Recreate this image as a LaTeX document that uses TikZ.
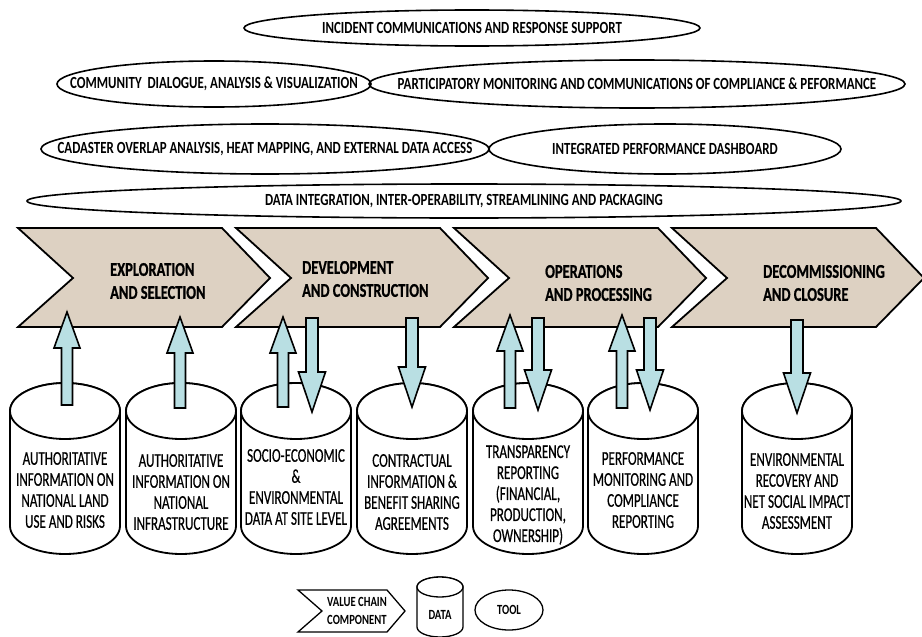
\documentclass[tikz,border=0pt]{standalone}
\usepackage{fontspec}
\newfontfamily\toolfont{Carlito}[FakeStretch=0.76]
\newfontfamily\stagefont{Carlito}[FakeStretch=0.74, FakeBold=0.8]
\newfontfamily\datafont{Carlito}[FakeStretch=0.67, FakeBold=0.5]
\usetikzlibrary{shapes.geometric}

\definecolor{stagefill}{RGB}{221,209,194}
\definecolor{flowfill}{RGB}{185,223,227}

% block arrows: x, tip y, foot y
\newcommand{\blockup}[3]{%
  \draw[flow] (#1-5.5,#3) -- (#1-5.5,#2+36) -- (#1-13,#2+36) -- (#1,#2)
    -- (#1+13,#2+36) -- (#1+5.5,#2+36) -- (#1+5.5,#3) -- cycle;}
% x, shaft top y, tip y
\newcommand{\blockdown}[3]{%
  \draw[flow] (#1-6,#2) -- (#1-6,#3-40) -- (#1-13.5,#3-40) -- (#1,#3)
    -- (#1+13.5,#3-40) -- (#1+6,#3-40) -- (#1+6,#2) -- cycle;}
% value chain chevron from its left x
\newcommand{\stagechevron}[1]{%
  \draw[stage] (#1,228) -- ++(204,0) -- ++(48,50) -- ++(-48,49) -- ++(-204,0) -- ++(55,-49) -- cycle;}
% data store from its centre x
\newcommand{\datacyl}[1]{%
  \draw[store] (#1-55,411) -- (#1-55,526) arc[start angle=180, end angle=0, x radius=55, y radius=28]
    -- (#1+55,411) arc[start angle=0, end angle=-180, x radius=55, y radius=28] -- cycle;
  \draw[store] (#1,411) ellipse[x radius=55, y radius=28];}

\begin{document}
\begin{tikzpicture}[x=1pt, y=-1pt,
    tool/.style={draw, ellipse, line width=1.6pt, inner sep=0pt},
    tooltext/.style={font=\toolfont\bfseries\fontsize{17}{19}\selectfont, inner sep=0pt},
    stage/.style={draw, fill=stagefill, line width=1.8pt},
    stagetext/.style={font=\stagefont\bfseries\fontsize{19.5}{23}\selectfont, align=left, anchor=west, inner sep=0pt},
    store/.style={draw, fill=white, line width=1.8pt},
    storetext/.style={font=\datafont\fontsize{19.5}{21}\selectfont, align=center, inner sep=0pt},
    flow/.style={draw, fill=flowfill, line width=1.6pt},
    keytext/.style={font=\toolfont\bfseries\fontsize{14}{18}\selectfont, align=left, inner sep=0pt}]

    \useasboundingbox (0,0) rectangle (922,637);

    % tools
    \node[tool, minimum width=456, minimum height=36] (incident) at (472,28) {};
    \node[tooltext] (incident-t) at (incident) {INCIDENT COMMUNICATIONS AND RESPONSE SUPPORT};
    \node[tool, minimum width=314, minimum height=46] (dialogue) at (214,84) {};
    \node[tooltext] (dialogue-t) at (dialogue) {COMMUNITY~ DIALOGUE, ANALYSIS \& VISUALIZATION};
    \node[tool, minimum width=536, minimum height=48] (monitor) at (637,84) {};
    \node[tooltext] (monitor-t) at (monitor) {PARTICIPATORY MONITORING AND COMMUNICATIONS OF COMPLIANCE \& PEFORMANCE};
    \node[tool, minimum width=448, minimum height=50] (cadaster) at (265,149) {};
    \node[tooltext] (cadaster-t) at (cadaster) {CADASTER OVERLAP ANALYSIS, HEAT MAPPING, AND EXTERNAL DATA ACCESS};
    \node[tool, minimum width=352, minimum height=50] (dashboard) at (665,149) {};
    \node[tooltext] (dashboard-t) at (dashboard) {INTEGRATED PERFORMANCE DASHBOARD};
    \node[tool, minimum width=874, minimum height=34] (integrate) at (464,201) {};
    \node[tooltext] (integrate-t) at (integrate) {DATA INTEGRATION, INTER-OPERABILITY, STREAMLINING AND PACKAGING};

    % value chain
    \foreach \x in {18,236,454,672} {\stagechevron{\x}}
    \node[stagetext] (explore) at (110,281) {EXPLORATION\\AND SELECTION};
    \node[stagetext] (develop) at (302,279) {DEVELOPMENT\\AND CONSTRUCTION};
    \node[stagetext] (operate) at (545,283) {OPERATIONS\\AND PROCESSING};
    \node[stagetext] (close) at (763,283) {DECOMMISSIONING\\AND CLOSURE};

    % data
    \foreach \x in {65,181,296,412,528,643,797} {\datacyl{\x}}
    \node[storetext] (landuse) at (65,490) {AUTHORITATIVE\\INFORMATION ON\\NATIONAL LAND\\USE AND RISKS};
    \node[storetext] (infra) at (181,492) {AUTHORITATIVE\\INFORMATION ON\\NATIONAL\\INFRASTRUCTURE};
    \node[storetext] (siteinfo) at (296,487) {SOCIO-ECONOMIC\\\&\\ENVIRONMENTAL\\DATA AT SITE LEVEL};
    \node[storetext] (contract) at (412,492) {CONTRACTUAL\\INFORMATION \&\\BENEFIT SHARING\\AGREEMENTS};
    \node[storetext] (transp) at (528,495) {TRANSPARENCY\\REPORTING\\(FINANCIAL,\\PRODUCTION,\\OWNERSHIP)};
    \node[storetext] (perform) at (643,490) {PERFORMANCE\\MONITORING AND\\COMPLIANCE\\REPORTING};
    \node[storetext] (recovery) at (797,491) {ENVIRONMENTAL\\RECOVERY AND\\NET SOCIAL IMPACT\\ASSESSMENT};

    % flows
    \blockup{67}{312}{405}
    \blockup{180}{317}{408}
    \blockup{283}{317}{407}
    \blockup{510}{315}{408}
    \blockup{622}{315}{408}
    \blockdown{312}{318}{412}
    \blockdown{412}{318}{407}
    \blockdown{538}{318}{410}
    \blockdown{650}{318}{410}
    \blockdown{797}{320}{413}

    % key
    \draw[store, line width=1.3pt] (298,590) -- (387,590) -- (405,611) -- (387,632) -- (298,632) -- (322,611) -- cycle;
    \node[keytext] (key-stage) at (357,611) {VALUE CHAIN\\COMPONENT};
    \draw[store, line width=1.3pt] (417,587) -- (417,627) arc[start angle=180, end angle=0, x radius=23, y radius=10]
        -- (463,587) arc[start angle=0, end angle=-180, x radius=23, y radius=10] -- cycle;
    \draw[store, line width=1.3pt] (440,587) ellipse[x radius=23, y radius=10];
    \node[keytext] (key-data) at (440,615) {DATA};
    \node[tool, line width=1.3pt, minimum width=68, minimum height=40] (key-tool) at (509,610) {};
    \node[keytext] (key-tool-t) at (key-tool) {TOOL};
\end{tikzpicture}
\end{document}
